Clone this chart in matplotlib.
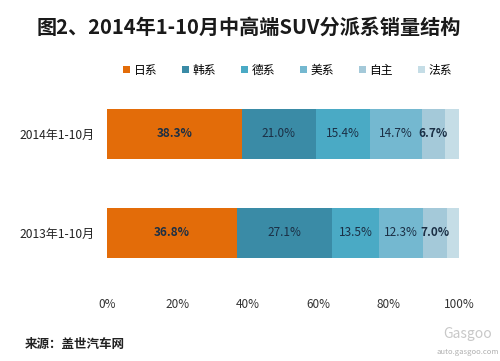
import matplotlib
matplotlib.use('Agg')
import matplotlib.pyplot as plt
import numpy as np

plt.rcParams['font.family'] = ['Noto Sans CJK SC', 'DejaVu Sans']

# 数据
periodos = ['2013年1-10月', '2014年1-10月']
series = ['日系', '韩系', '德系', '美系', '自主', '法系']
valores = {
    '日系': [36.8, 38.3],
    '韩系': [27.1, 21.0],
    '德系': [13.5, 15.4],
    '美系': [12.3, 14.7],
    '自主': [7.0, 6.7],
    '法系': [3.3, 3.9],
}
colores = ['#E36C09', '#3A8BA6', '#4AAAC5', '#74B8D0', '#A4C9D9', '#C5DDE6']
negrita = {'日系': True, '韩系': False, '德系': False, '美系': False, '自主': True, '法系': False}
mostrar = ['日系', '韩系', '德系', '美系', '自主']
ticks_x = [0, 20, 40, 60, 80, 100]

fig = plt.figure(figsize=(5, 3.61), dpi=100)
fig.patch.set_facecolor('white')
ax = fig.add_axes([0.214, 0.197, 0.704, 0.540])

y = np.arange(len(periodos))
izq = np.zeros(len(periodos))
for s, c in zip(series, colores):
    v = np.array(valores[s])
    ax.barh(y, v, left=izq, height=0.505, color=c, label=s, edgecolor='none')
    if s in mostrar:
        for yi, (l, w) in enumerate(zip(izq, v)):
            ax.text(l + w / 2, yi, f'{w:.1f}%', ha='center', va='center',
                    fontsize=8.5, color='#1B2F45',
                    fontweight='bold' if negrita[s] else 'normal')
    izq = izq + v

ax.set_xlim(0, 100)
ax.set_ylim(-0.576, 1.394)
ax.set_yticks(y)
ax.set_yticklabels(periodos, fontsize=8.7, color='#222222')
ax.set_xticks(ticks_x)
ax.set_xticklabels([f'{t}%' for t in ticks_x], fontsize=8.5, color='#333333')
ax.tick_params(axis='both', length=0)
ax.tick_params(axis='x', pad=6)
ax.tick_params(axis='y', pad=9)
for sp in ax.spines.values():
    sp.set_visible(False)

fig.text(0.497, 0.925, '图2、2014年1-10月中高端SUV分派系销量结构', ha='center', va='center',
         fontsize=14.5, fontweight='bold', color='#1a1a1a')

ax.legend(loc='center', bbox_to_anchor=(0.575, 0.805), bbox_transform=fig.transFigure,
          ncol=6, frameon=False, fontsize=8.5, handlelength=0.6, handleheight=0.6,
          handletextpad=0.3, columnspacing=2.1)

fig.text(0.05, 0.045, '来源：盖世汽车网', ha='left', va='center', fontsize=9,
         fontweight='bold', style='italic', color='#222222')
fig.text(0.935, 0.075, 'Gasgoo', ha='center', va='center', fontsize=10, color='#c8c8c8')
fig.text(0.935, 0.025, 'auto.gasgoo.com', ha='center', va='center', fontsize=5.5, color='#b0b0b0')

fig.savefig('out.png', dpi=100)
